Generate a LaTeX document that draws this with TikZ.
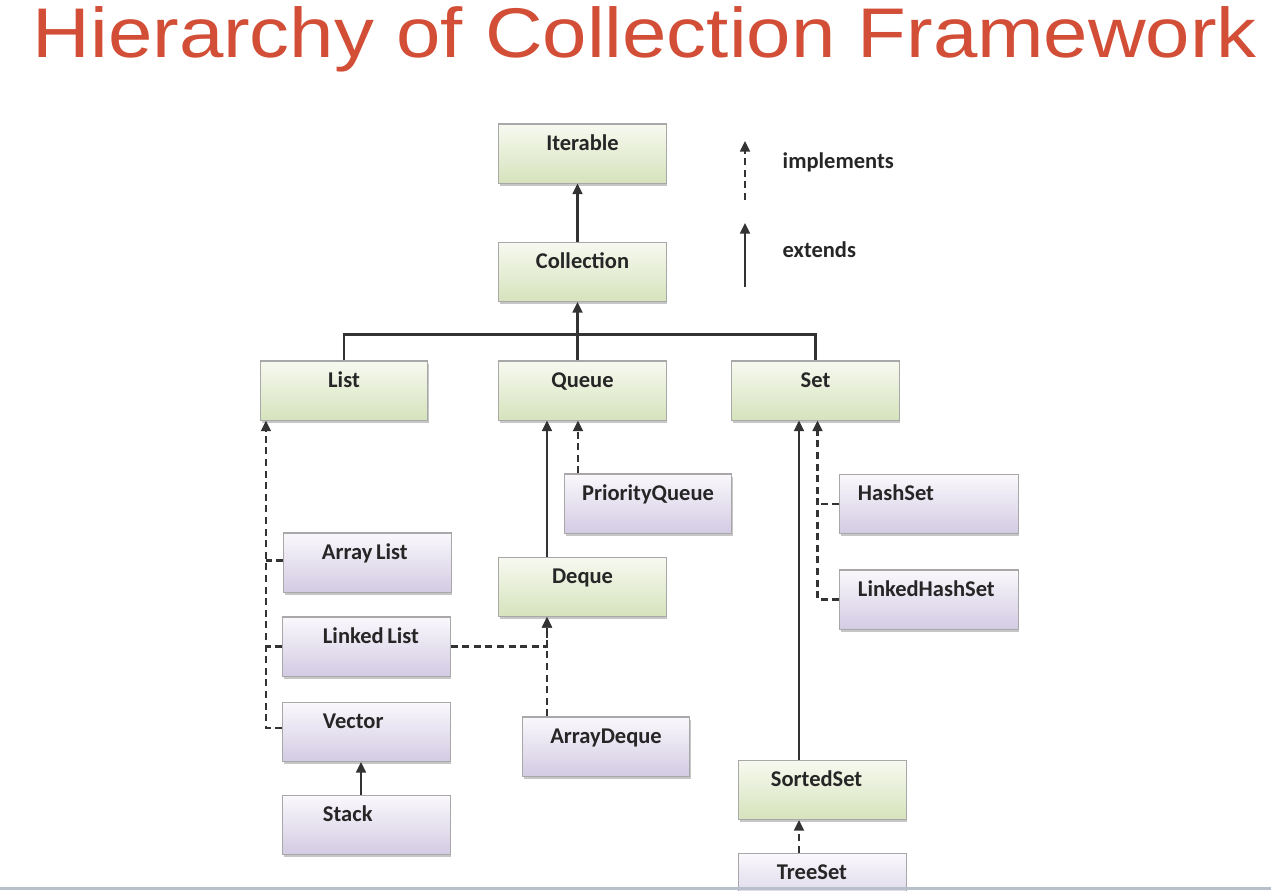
\documentclass[tikz,border=0pt]{standalone}
\usepackage{fontspec}
\usepackage{tikz}
\usetikzlibrary{arrows.meta,calc,positioning,shadows}
\newfontfamily\titlefont{Liberation Sans}
\newfontfamily\boxfont{Carlito}
\definecolor{Title_Red}{HTML}{D24E37}
\definecolor{Iface_Top}{HTML}{F7F9F0}
\definecolor{Iface_Bot}{HTML}{D6E3BC}
\definecolor{Class_Top}{HTML}{FAF8FC}
\definecolor{Class_Bot}{HTML}{D3CBE3}
\definecolor{Box_Edge}{HTML}{A8A8A8}
\definecolor{Link_Gray}{HTML}{333333}
\definecolor{Rule_Blue}{HTML}{B7BFCB}

\begin{document}
\begin{tikzpicture}[x=0.01cm, y=-0.01cm, >={Triangle[width=2.8pt,length=3pt]},
    box/.style={draw=Box_Edge, line width=0.3pt, minimum width=1.67cm, text width=1.67cm,
        minimum height=0.59cm, inner xsep=0pt, inner ysep=0pt, text height=0.26cm, text depth=0.33cm,
        align=center, font=\boxfont\bfseries\fontsize{6.4}{7.6}\selectfont, text=black!85,
        drop shadow={shadow xshift=0.3pt, shadow yshift=-0.8pt, opacity=0.45}},
    iface/.style={box, top color=Iface_Top, bottom color=Iface_Bot},
    cls/.style={box, top color=Class_Top, bottom color=Class_Bot},
    wide/.style={minimum width=1.78cm, text width=1.78cm},
    lpad/.style={align=left, execute at begin node={\spaceskip=0.16em\relax\hspace*{#1}}},
    extends/.style={->, line width=0.6pt, Link_Gray},
    implements/.style={extends, dash pattern=on 2pt off 1.3pt},
    legend/.style={font=\boxfont\bfseries\fontsize{6.4}{7.6}\selectfont, text=black!85, inner sep=0pt, anchor=base west}]

    % Page frame
    \useasboundingbox (0,0) rectangle (1271,890);
    \clip (0,0) rectangle (1271,890);

    % Title
    \node[font=\titlefont\fontsize{20}{24}\selectfont, text=Title_Red, inner sep=0pt, anchor=base west]
        (title) at (32,57) {\scalebox{1.135}[1]{Hierarchy of Collection Framework}};

    % Interfaces (green)
    \node[iface] (iterable) at (582.5,153.5) {Iterable};
    \node[iface] (collection) at (582.5,272) {Collection};
    \node[iface] (list) at (344,390.5) {List};
    \node[iface] (queue) at (582.5,390.5) {Queue};
    \node[iface] (set) at (815.5,390.5) {Set};
    \node[iface] (deque) at (582.5,587) {Deque};
    \node[iface, lpad=0.32cm] (sortedset) at (822.5,790) {SortedSet};

    % Classes (purple)
    \node[cls] (pqueue) at (648,503.5) {PriorityQueue};
    \node[cls, lpad=0.38cm] (arraylist) at (367.5,562.5) {Array List};
    \node[cls, lpad=0.4cm] (linkedlist) at (366.5,646.5) {Linked List};
    \node[cls, lpad=0.4cm] (vector) at (366.5,732) {Vector};
    \node[cls, lpad=0.4cm] (stack) at (366.5,825) {Stack};
    \node[cls] (arraydeque) at (606,746.5) {ArrayDeque};
    \node[cls, wide, lpad=0.18cm] (hashset) at (929,504) {HashSet};
    \node[cls, wide, lpad=0.18cm] (linkedhashset) at (929,599.5) {LinkedHashSet};
    \node[cls, lpad=0.38cm] (treeset) at (822.5,883) {TreeSet};

    % Collection extends Iterable
    \draw[extends] ([xshift=-0.05cm]collection.north) -- ([xshift=-0.05cm]iterable.south);

    % List, Queue and Set extend Collection
    \draw[Link_Gray, line width=0.6pt] (list.north) -- ++(0,-26) -| (set.north);
    \draw[extends] ([xshift=-0.05cm]queue.north) -- ([xshift=-0.05cm]collection.south);

    % Deque extends Queue, PriorityQueue implements Queue
    \coordinate (dqx) at ([xshift=-0.355cm]deque.north);
    \draw[extends] (dqx) -- (dqx |- queue.south);
    \coordinate (pqx) at ([xshift=-0.7cm]pqueue.north);
    \draw[implements] (pqx) -- (pqx |- queue.south);

    % Array List, Linked List and Vector implement List
    \coordinate (listx) at ([xshift=0.06cm]list.south west);
    \draw[implements] ([yshift=0.04cm]vector.west) -| (listx);
    \draw[implements, -] ([yshift=0.02cm]arraylist.west) -- ([yshift=0.02cm]arraylist.west -| listx);
    \draw[implements, -] (linkedlist.west) -- (linkedlist.west -| listx);

    % Linked List and ArrayDeque implement Deque
    \coordinate (dqin) at ([xshift=-0.355cm]deque.south);
    \draw[implements] (linkedlist.east) -| (dqin);
    \draw[implements] (dqin |- arraydeque.north) -- (dqin);

    % Stack extends Vector
    \draw[extends] ([xshift=-0.055cm]stack.north) -- ([xshift=-0.055cm]vector.south);

    % SortedSet extends Set
    \coordinate (setx) at ([xshift=-0.165cm]set.south);
    \draw[extends] (setx |- sortedset.north) -- (setx);

    % HashSet and LinkedHashSet implement Set
    \coordinate (setin) at ([xshift=0.02cm]set.south);
    \draw[implements] (linkedhashset.west) -| (setin);
    \draw[implements, -] (hashset.west) -- (hashset.west -| setin);

    % TreeSet implements SortedSet
    \draw[implements] (setx |- treeset.north) -- (setx |- sortedset.south);

    % Legend
    \coordinate (implfrom) at (745,200);
    \coordinate (implto) at (745,141);
    \draw[implements] (implfrom) -- (implto);
    \node[legend] (impltext) at (782,168) {implements};
    \coordinate (extfrom) at (745,287);
    \coordinate (extto) at (745,223);
    \draw[extends] (extfrom) -- (extto);
    \node[legend] (exttext) at (782,257) {extends};

    % Bottom rule
    \draw[Rule_Blue, line width=0.6pt] (0,888.5) -- (1271,888.5);

\end{tikzpicture}
\end{document}
